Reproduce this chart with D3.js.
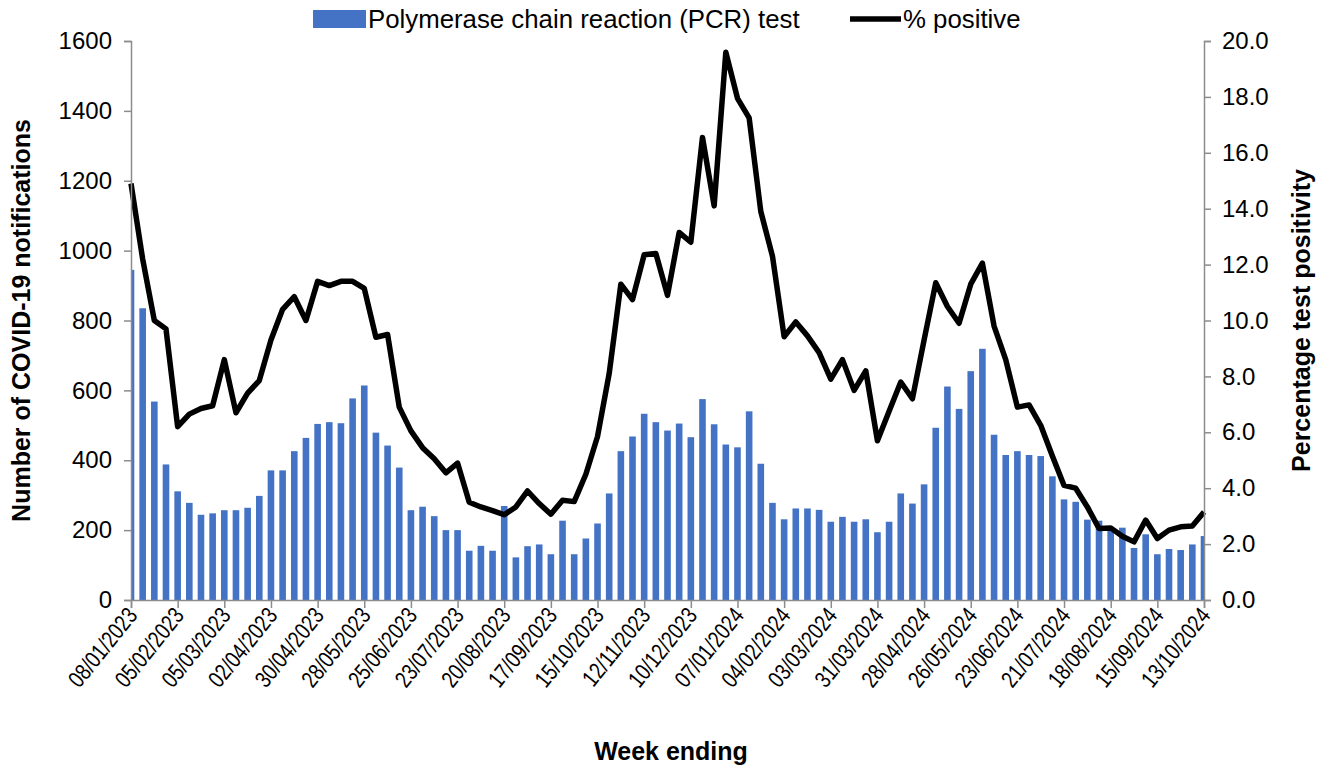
<!DOCTYPE html>
<meta charset="utf-8">
<script src="https://d3js.org/d3.v7.min.js"></script>
<style>
  body { margin: 0; background: #fff; }
  text { font-family: "Liberation Sans", Arial, sans-serif; fill: #000; }
</style>
<body>
<div id="chart"></div>
<script>

// week ending dates: 93 weeks from 08/01/2023 to 13/10/2024
const startWeek = new Date(2023, 0, 8);
const weeks = d3.range(93).map(i => d3.timeDay.offset(startWeek, i * 7));

// labels shown every 4 weeks
const tickLabels = ["08/01/2023", "05/02/2023", "05/03/2023", "02/04/2023", "30/04/2023", "28/05/2023",
  "25/06/2023", "23/07/2023", "20/08/2023", "17/09/2023", "15/10/2023", "12/11/2023",
  "10/12/2023", "07/01/2024", "04/02/2024", "03/03/2024", "31/03/2024", "28/04/2024",
  "26/05/2024", "23/06/2024", "21/07/2024", "18/08/2024", "15/09/2024", "13/10/2024"];

// PCR notifications per week
const pcr = [945, 835, 568, 388, 311, 278, 244, 248, 257, 257, 264, 298,
  371, 371, 426, 464, 504, 509, 506, 577, 614, 479, 442, 379,
  257, 267, 240, 200, 200, 141, 155, 141, 269, 122, 154, 159,
  131, 227, 131, 176, 219, 305, 426, 468, 533, 509, 485, 505,
  466, 575, 503, 445, 437, 540, 390, 278, 231, 262, 262, 258,
  224, 238, 224, 231, 194, 224, 305, 276, 331, 493, 611, 547,
  655, 719, 473, 415, 426, 415, 412, 354, 288, 281, 230, 227,
  209, 207, 149, 188, 131, 146, 143, 159, 183];

// % positive
const positive = [14.9, 12.2, 10.0, 9.7, 6.2, 6.65, 6.85, 6.95, 8.6, 6.7, 7.4, 7.85,
  9.3, 10.4, 10.85, 10.0, 11.4, 11.25, 11.4, 11.4, 11.15, 9.4, 9.5, 6.9,
  6.05, 5.45, 5.05, 4.55, 4.9, 3.5, 3.33, 3.2, 3.05, 3.33, 3.9, 3.45,
  3.07, 3.57, 3.52, 4.5, 5.85, 8.1, 11.3, 10.75, 12.35, 12.4, 10.9, 13.15,
  12.8, 16.55, 14.1, 19.6, 17.95, 17.25, 13.9, 12.3, 9.42, 9.95, 9.45, 8.85,
  7.9, 8.6, 7.5, 8.2, 5.7, 6.75, 7.8, 7.2, 9.3, 11.35, 10.5, 9.9,
  11.3, 12.05, 9.8, 8.6, 6.9, 6.98, 6.25, 5.15, 4.1, 4.0, 3.33, 2.56,
  2.58, 2.28, 2.08, 2.86, 2.2, 2.5, 2.62, 2.65, 3.15];

const leftTicks = [0, 200, 400, 600, 800, 1000, 1200, 1400, 1600];
const rightTicks = [0, 2, 4, 6, 8, 10, 12, 14, 16, 18, 20];

const W = 1330, H = 769;
const plot = {left: 131, right: 1204, top: 41, bottom: 600};
const axisColor = "#8c8c8c";

const svg = d3.select("#chart").append("svg")
  .attr("width", W).attr("height", H);

const x = d3.scalePoint()
  .domain(d3.range(weeks.length))
  .range([plot.left, plot.right]);

const y = d3.scaleLinear().domain([0, 1600]).range([plot.bottom, plot.top]);
const y2 = d3.scaleLinear().domain([0, 20]).range([plot.bottom, plot.top]);

svg.append("defs").append("clipPath")
    .attr("id", "clip")
  .append("rect")
    .attr("x", plot.left).attr("y", 0)
    .attr("width", plot.right - plot.left).attr("height", plot.bottom);

const bw = 6.6;

// bars
svg.append("g").attr("clip-path", "url(#clip)")
  .selectAll("rect")
  .data(pcr)
  .join("rect")
    .attr("x", (d, i) => x(i) - bw / 2)
    .attr("y", d => y(d))
    .attr("width", bw)
    .attr("height", d => y(0) - y(d))
    .attr("fill", "#4472C4");

// line
svg.append("path")
  .datum(positive)
  .attr("fill", "none")
  .attr("stroke", "#000")
  .attr("stroke-width", 5.5)
  .attr("stroke-linejoin", "round")
  .attr("d", d3.line()
    .x((d, i) => x(i))
    .y(d => y2(d)));

// left axis
const yAxis = svg.append("g")
  .attr("transform", `translate(${plot.left},0)`)
  .call(d3.axisLeft(y).tickValues(leftTicks).tickSize(7).tickPadding(12)
    .tickFormat(d3.format("d")));

// right axis
const yAxis2 = svg.append("g")
  .attr("transform", `translate(${plot.right},0)`)
  .call(d3.axisRight(y2).tickValues(rightTicks).tickSize(7).tickPadding(11)
    .tickFormat(d3.format(".1f")));

// x axis
const xTickIdx = d3.range(0, weeks.length, 4);
const xAxis = svg.append("g")
  .attr("transform", `translate(0,${plot.bottom})`)
  .call(d3.axisBottom(x).tickValues(xTickIdx).tickSize(8)
    .tickFormat((d, i) => tickLabels[i]));

// narrow, steep labels like the original
xAxis.selectAll("text")
  .attr("text-anchor", "end")
  .attr("dy", null)
  .attr("transform", "translate(7,16) rotate(-51) scale(0.8,1)")
  .attr("x", 0).attr("y", 0)
  .style("font-size", "23.5px");

[yAxis, yAxis2, xAxis].forEach(a => {
  a.select(".domain").attr("stroke", axisColor).attr("stroke-width", 1.5);
  a.selectAll(".tick line").attr("stroke", axisColor).attr("stroke-width", 1.5);
});
[yAxis, yAxis2].forEach(a => a.selectAll("text").style("font-size", "24px"));
svg.selectAll(".tick text").attr("fill", "#000");

// axis titles
svg.append("text")
  .attr("transform", `translate(30,${(plot.top + plot.bottom) / 2}) rotate(-90)`)
  .attr("text-anchor", "middle")
  .style("font-size", "25px").style("font-weight", "bold")
  .text("Number of COVID-19 notifications");

svg.append("text")
  .attr("transform", `translate(1310,${(plot.top + plot.bottom) / 2}) rotate(-90)`)
  .attr("text-anchor", "middle")
  .style("font-size", "25px").style("font-weight", "bold")
  .text("Percentage test positivity");

svg.append("text")
  .attr("x", 671).attr("y", 760)
  .attr("text-anchor", "middle")
  .style("font-size", "25px").style("font-weight", "bold")
  .text("Week ending");

// legend
const legend = svg.append("g");
legend.append("rect")
  .attr("x", 313).attr("y", 10).attr("width", 53).attr("height", 18)
  .attr("fill", "#4472C4");
legend.append("text")
  .attr("x", 368).attr("y", 28)
  .style("font-size", "25.8px")
  .text("Polymerase chain reaction (PCR) test");
legend.append("line")
  .attr("x1", 850).attr("x2", 901).attr("y1", 19).attr("y2", 19)
  .attr("stroke", "#000").attr("stroke-width", 5.5);
legend.append("text")
  .attr("x", 903).attr("y", 28)
  .style("font-size", "25.8px")
  .text("% positive");

</script>
</body>
